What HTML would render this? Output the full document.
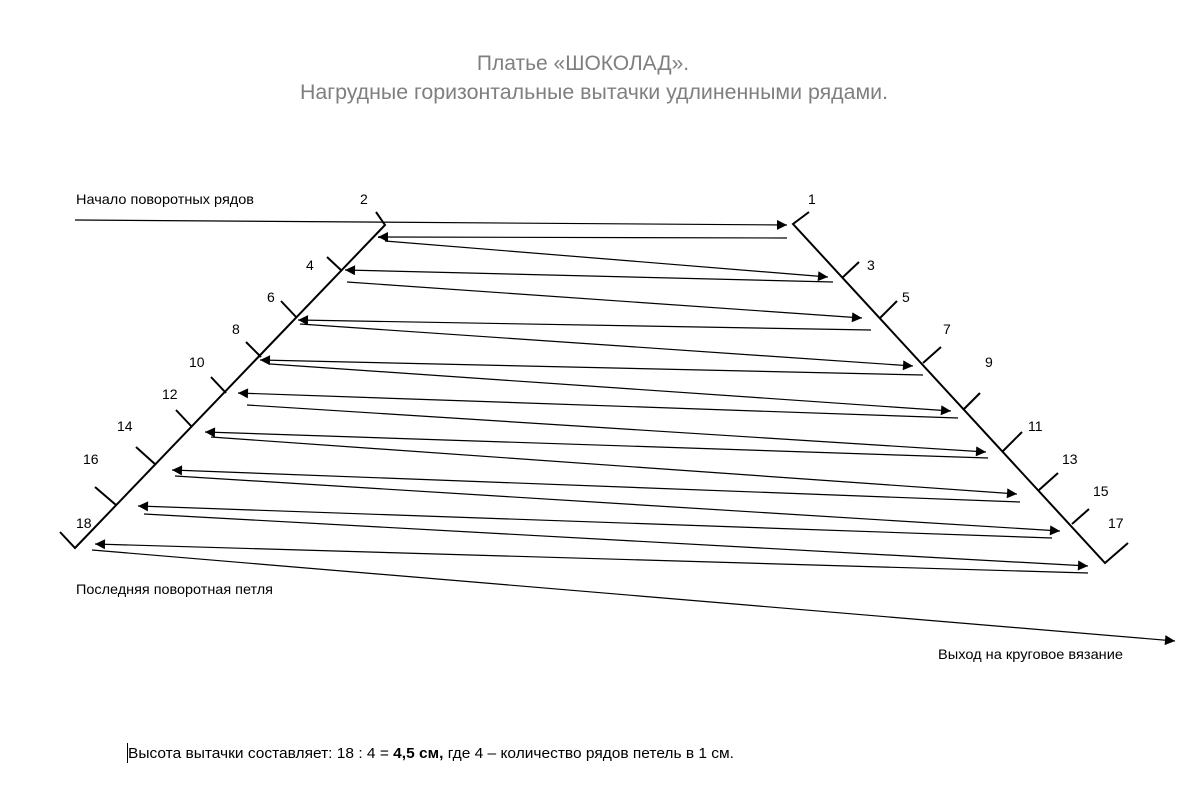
<!DOCTYPE html>
<html><head><meta charset="utf-8"><style>
html,body{margin:0;padding:0;background:#fff;}
svg{display:block;}
text{font-family:"Liberation Sans","DejaVu Sans",sans-serif;}
</style></head><body>
<svg width="1200" height="798" viewBox="0 0 1200 798" xmlns="http://www.w3.org/2000/svg">
<defs>
<marker id="a" viewBox="0 0 10 10" refX="10" refY="5" markerWidth="12" markerHeight="10" markerUnits="userSpaceOnUse" orient="auto"><path d="M0,0 L10,5 L0,10 z" fill="#000"/></marker>
</defs>
<text x="583" y="70" font-size="21" fill="#7f7f7f" text-anchor="middle">Платье «ШОКОЛАД».</text>
<text x="594" y="99" font-size="21" fill="#7f7f7f" text-anchor="middle" textLength="588" lengthAdjust="spacingAndGlyphs">Нагрудные горизонтальные вытачки удлиненными рядами.</text>

<g font-size="14" fill="#000">
<text x="76" y="204" textLength="178" lengthAdjust="spacingAndGlyphs">Начало поворотных рядов</text>
<text x="76" y="594" textLength="197" lengthAdjust="spacingAndGlyphs">Последняя поворотная петля</text>
<text x="938" y="659" textLength="185" lengthAdjust="spacingAndGlyphs">Выход на круговое вязание</text>
<text x="360" y="204">2</text><text x="306" y="270">4</text><text x="267" y="302">6</text><text x="232" y="334">8</text><text x="189" y="367">10</text><text x="162" y="399">12</text><text x="117" y="431">14</text><text x="83" y="464">16</text><text x="76" y="528">18</text>
<text x="808" y="204">1</text><text x="867" y="270">3</text><text x="902" y="302">5</text><text x="943" y="334">7</text><text x="985" y="367">9</text><text x="1028" y="431">11</text><text x="1062" y="464">13</text><text x="1093" y="496">15</text><text x="1108" y="528">17</text>
</g>

<g stroke="#000" stroke-width="2" fill="none">
<polyline points="376,212 385,225 75,548 60,532"/>
<polyline points="809,212 793,224 1105,563 1128,543"/>
<line x1="327" y1="257" x2="342" y2="271"/>
<line x1="281" y1="301" x2="297" y2="318"/>
<line x1="246" y1="342" x2="261" y2="357"/>
<line x1="211" y1="377" x2="226" y2="393"/>
<line x1="176" y1="410" x2="192" y2="427"/>
<line x1="136" y1="447" x2="156" y2="465"/>
<line x1="95" y1="487" x2="116" y2="505"/>
<line x1="842" y1="278" x2="859" y2="262"/>
<line x1="880" y1="318" x2="897" y2="301"/>
<line x1="923" y1="363" x2="941" y2="347"/>
<line x1="963" y1="410" x2="980" y2="393"/>
<line x1="1002" y1="452" x2="1022" y2="432"/>
<line x1="1039" y1="490" x2="1058" y2="473"/>
<line x1="1072" y1="524" x2="1089" y2="509"/>
</g>

<g stroke="#000" stroke-width="1.2" fill="none" marker-end="url(#a)">
<line x1="75" y1="220" x2="787" y2="225"/>
<line x1="787" y1="238" x2="378" y2="237"/>
<line x1="385" y1="241" x2="828" y2="277"/>
<line x1="833" y1="282" x2="345" y2="270"/>
<line x1="347" y1="282" x2="862" y2="318"/>
<line x1="871" y1="330" x2="298" y2="320"/>
<line x1="300" y1="324" x2="913" y2="366"/>
<line x1="923" y1="375" x2="260" y2="360"/>
<line x1="270" y1="364" x2="951" y2="411"/>
<line x1="958" y1="418" x2="238" y2="393"/>
<line x1="247" y1="405" x2="986" y2="452"/>
<line x1="988" y1="458" x2="205" y2="432"/>
<line x1="211" y1="437" x2="1017" y2="494"/>
<line x1="1020" y1="502" x2="172" y2="470"/>
<line x1="175" y1="476" x2="1060" y2="531"/>
<line x1="1052" y1="538" x2="138" y2="506"/>
<line x1="144" y1="514" x2="1088" y2="566"/>
<line x1="1088" y1="573" x2="95" y2="544"/>
<line x1="92" y1="550" x2="1175" y2="641"/>
</g>

<line x1="127.5" y1="743" x2="127.5" y2="763" stroke="#000" stroke-width="1"/>
<text x="128" y="758" font-size="15" fill="#000" textLength="606" lengthAdjust="spacingAndGlyphs">Высота вытачки составляет: 18 : 4 = <tspan font-weight="bold">4,5 см,</tspan> где 4 – количество рядов петель в 1 см.</text>
</svg>
</body></html>
